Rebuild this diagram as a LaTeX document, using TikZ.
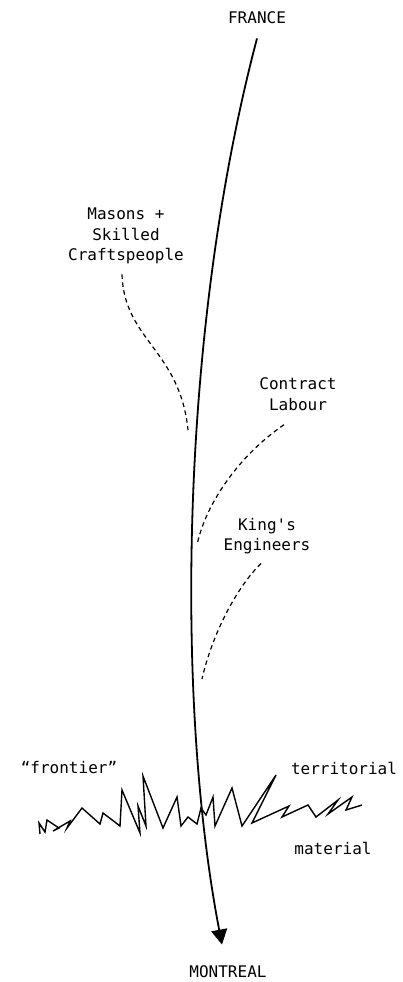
\documentclass[tikz,border=0pt]{standalone}
\usepackage{fontspec}
\setmonofont{DejaVu Sans Mono}
\usetikzlibrary{arrows.meta}

\begin{document}
\begin{tikzpicture}[x=1pt,y=-1pt,
  thick,
  place node/.style={font=\ttfamily\fontsize{16}{20.5}\selectfont,inner sep=2pt},
  crew node/.style={place node,align=center},
  flow/.style={line width=1.8pt,-{Triangle[length=15pt,width=16pt]}},
  feed/.style={line width=1.2pt,dash pattern=on 4.5pt off 3.5pt},
  scribble/.style={line width=1.4pt,line join=miter}]

  \useasboundingbox (0,0) rectangle (403,982);

  \node[place node] (france) at (257,18) {FRANCE};
  \node[place node] (montreal) at (228,972) {MONTREAL};

  \node[crew node] (masons) at (126,236) {Masons +\\Skilled\\Craftspeople};
  \node[crew node] (contract) at (298,394) {Contract\\Labour};
  \node[crew node] (kings) at (267,536) {King's\\Engineers};

  \node[place node] (frontier) at (69,768) {“frontier”};
  \node[place node] (territorial) at (344,768) {territorial};
  \node[place node] (material) at (333,848) {material};

  \coordinate (masons-in) at (188,430);
  \coordinate (contract-in) at (197,545);
  \coordinate (kings-in) at (202,679);

  % the border
  \draw[scribble] (40,834) -- (39,823) -- (45,832) -- (47,820) -- (59,828)
    -- (53,831) -- (70,821) -- (67,828) -- (82,808) -- (100,824) -- (103,813)
    -- (120,826) -- (122,790) -- (140,833) -- (138,806) -- (146,826)
    -- (143,776) -- (163,828) -- (177,797) -- (181,826) -- (188,817)
    -- (197,824) -- (201,808) -- (206,815) -- (213,797) -- (215,826)
    -- (232,788) -- (242,826) -- (276,775) -- (252,823) -- (289,806)
    -- (282,817) -- (308,805) -- (316,817) -- (338,800) -- (328,814)
    -- (352,797) -- (346,810) -- (362,805);

  \draw[flow] ([yshift=-12pt]france.south) .. controls (180,330) and (175,700)
    .. ([xshift=-6pt,yshift=19pt]montreal.north);

  \draw[feed] ([xshift=-4pt,yshift=-8pt]masons.south) .. controls (124,340) and (180,350) .. (masons-in);
  \draw[feed] ([xshift=-14pt,yshift=-12pt]contract.south) .. controls (241,454) and (206,502) .. (contract-in);
  \draw[feed] ([xshift=-6pt,yshift=-7pt]kings.south) .. controls (236,588) and (212,635) .. (kings-in);
\end{tikzpicture}
\end{document}
